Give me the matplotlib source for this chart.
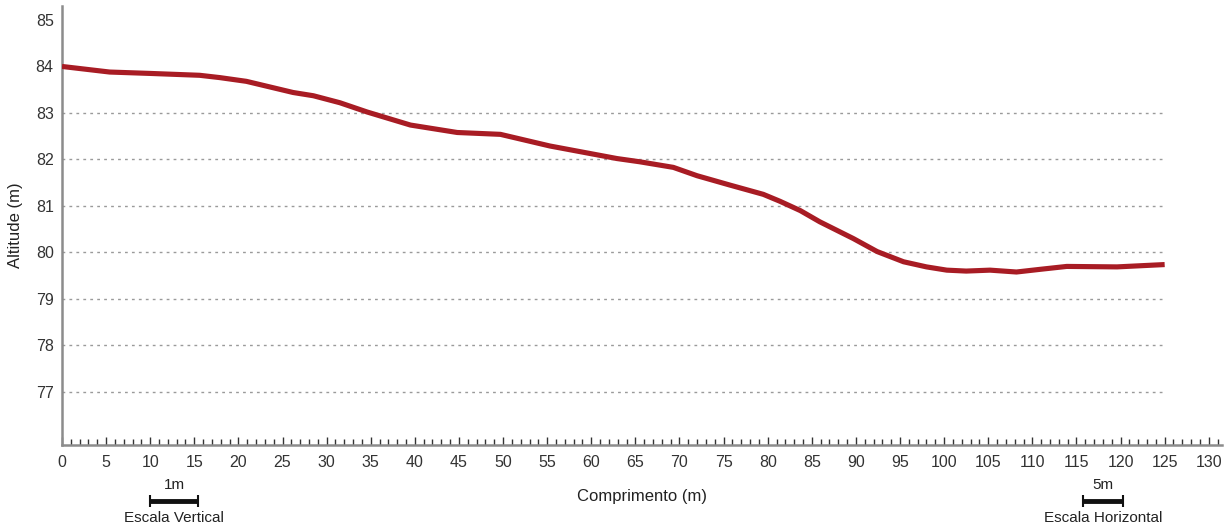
import matplotlib
matplotlib.use("Agg")
import matplotlib.pyplot as plt
from matplotlib.ticker import MultipleLocator
import matplotlib.transforms as mtransforms

plt.rcParams['font.family'] = ['Liberation Sans', 'DejaVu Sans']

distance = [0, 5.4, 10, 15.6, 17.9, 20.9, 26.2, 28.5, 31.5, 34.6, 39.5, 44.8,
            49.7, 55.3, 62.9, 65.5, 69.3, 72.0, 75.7, 79.5, 81.4, 83.7, 85.9,
            89.7, 92.4, 95.4, 98.0, 100.3, 102.5, 105.2, 108.2, 111.0, 113.9,
            119.6, 125]
altitude = [84.0, 83.88, 83.85, 83.81, 83.76, 83.68, 83.44, 83.37, 83.22, 83.02,
            82.74, 82.58, 82.54, 82.29, 82.02, 81.95, 81.83, 81.65, 81.45, 81.25,
            81.1, 80.9, 80.66, 80.30, 80.02, 79.80, 79.69, 79.62, 79.60, 79.62,
            79.58, 79.64, 79.70, 79.69, 79.74]

grid_levels = [77, 78, 79, 80, 81, 82, 83]
y_ticks = [77, 78, 79, 80, 81, 82, 83, 84, 85]
x_ticks = list(range(0, 131, 5))

fig = plt.figure(figsize=(12.28, 5.26), dpi=100)
ax = fig.add_axes([62/1228, (526-445)/526, (1222-62)/1228, (445-6)/526])

ax.set_xlim(0, 131.5)
ax.set_ylim(75.86, 85.3)

ax.hlines(grid_levels, 0, 125, colors='#9a9a9a', linestyles=(0, (2, 3)), linewidth=1.0, zorder=1)
ax.plot(distance, altitude, color='#a81c24', linewidth=3.7, solid_capstyle='butt',
        solid_joinstyle='round', zorder=3)

for s in ['top', 'right']:
    ax.spines[s].set_visible(False)
for s in ['left', 'bottom']:
    ax.spines[s].set_color('#8c8c8c')
    ax.spines[s].set_linewidth(1.8)

ax.set_xticks(x_ticks)
ax.xaxis.set_minor_locator(MultipleLocator(1))
ax.set_yticks(y_ticks)
ax.tick_params(axis='x', which='major', direction='in', length=6, width=1, color='#333333',
               labelsize=11.5, labelcolor='#333333', pad=7)
ax.tick_params(axis='x', which='minor', direction='in', length=4, width=1, color='#333333')
ax.tick_params(axis='y', which='major', length=0, labelsize=11.5, labelcolor='#333333', pad=6)

ax.set_xlabel('Comprimento (m)', fontsize=12, color='#222222', labelpad=14)
ax.set_ylabel('Altitude (m)', fontsize=12, color='#222222', labelpad=9)

# scale bars
trans = mtransforms.blended_transform_factory(ax.transData, fig.transFigure)
ybar = (526 - 500.5) / 526
ax.plot([10.0, 15.4], [ybar, ybar], transform=trans, color='#111111', linewidth=3.5,
        clip_on=False, solid_capstyle='butt')
ax.plot([10.0, 15.4], [ybar, ybar], transform=trans, linestyle='none',
        marker='|', markersize=9, color='#111111', markeredgewidth=1.5, clip_on=False)
ax.text(12.7, (526 - 485) / 526, '1m', transform=trans, ha='center', va='center', fontsize=11, color='#222222')
ax.text(12.7, (526 - 518) / 526, 'Escala Vertical', transform=trans, ha='center', va='center', fontsize=11, color='#222222')

ax.plot([115.7, 120.3], [ybar, ybar], transform=trans, color='#111111', linewidth=3.5,
        clip_on=False, solid_capstyle='butt')
ax.plot([115.7, 120.3], [ybar, ybar], transform=trans, linestyle='none',
        marker='|', markersize=9, color='#111111', markeredgewidth=1.5, clip_on=False)
ax.text(118.0, (526 - 485) / 526, '5m', transform=trans, ha='center', va='center', fontsize=11, color='#222222')
ax.text(118.0, (526 - 518) / 526, 'Escala Horizontal', transform=trans, ha='center', va='center', fontsize=11, color='#222222')

fig.savefig('out.png', dpi=100)
